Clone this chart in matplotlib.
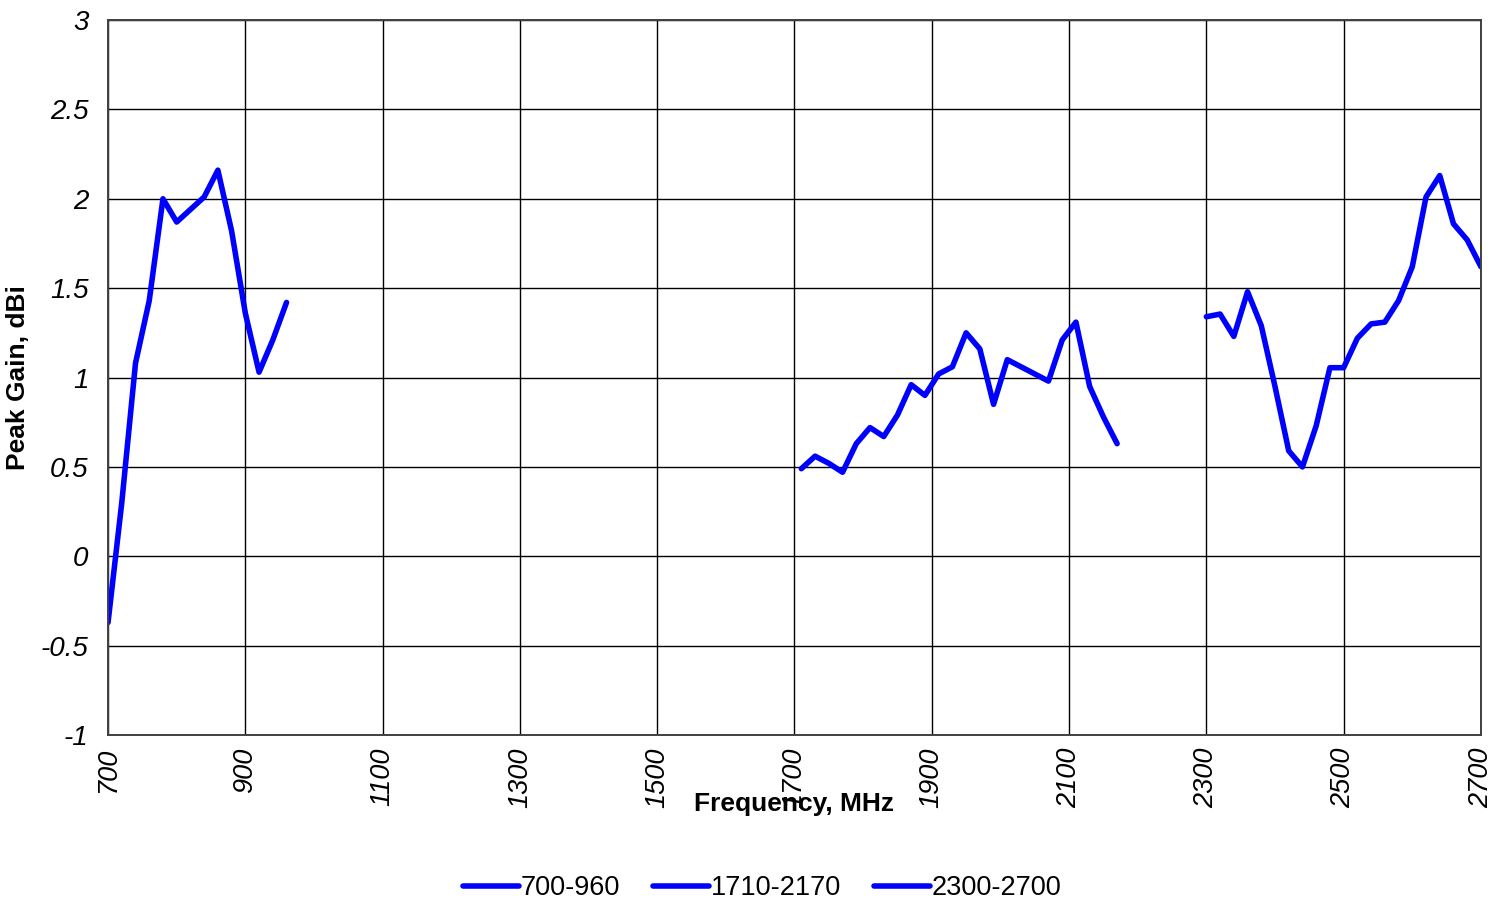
#!/usr/bin/env python3
import matplotlib

matplotlib.use("Agg")
import matplotlib.pyplot as plt

plt.rcParams["font.family"] = ["Liberation Sans", "DejaVu Sans"]

# 700-960 MHz band
FREQ_LOW = [700, 720, 740, 760, 780, 800, 820, 840, 860, 880, 900, 920, 940, 960]
GAIN_LOW = [-0.37, 0.30, 1.08, 1.43, 2.00, 1.87, 1.94, 2.01, 2.16, 1.82, 1.36,
            1.03, 1.21, 1.42]

# 1710-2170 MHz band
FREQ_MID = [1710, 1730, 1750, 1770, 1790, 1810, 1830, 1850, 1870, 1890, 1910, 1930,
            1950, 1970, 1990, 2010, 2030, 2050, 2070, 2090, 2110, 2130, 2150, 2170]
GAIN_MID = [0.49, 0.56, 0.52, 0.47, 0.63, 0.72, 0.67, 0.79, 0.96, 0.90, 1.02, 1.06,
            1.25, 1.16, 0.85, 1.10, 1.06, 1.02, 0.98, 1.21, 1.31, 0.95, 0.78, 0.63]

# 2300-2700 MHz band
FREQ_HIGH = [2300, 2320, 2340, 2360, 2380, 2400, 2420, 2440, 2460, 2480, 2500,
             2520, 2540, 2560, 2580, 2600, 2620, 2640, 2660, 2680, 2700]
GAIN_HIGH = [1.34, 1.355, 1.23, 1.48, 1.29, 0.95, 0.59, 0.50, 0.73, 1.055, 1.055,
             1.22, 1.30, 1.31, 1.43, 1.62, 2.01, 2.13, 1.86, 1.77, 1.62]

SERIES = [
    ("700-960", FREQ_LOW, GAIN_LOW),
    ("1710-2170", FREQ_MID, GAIN_MID),
    ("2300-2700", FREQ_HIGH, GAIN_HIGH),
]

X_TICKS = [700, 900, 1100, 1300, 1500, 1700, 1900, 2100, 2300, 2500, 2700]
Y_TICKS = [-1, -0.5, 0, 0.5, 1, 1.5, 2, 2.5, 3]
Y_TICK_LABELS = ["-1", "-0.5", "0", "0.5", "1", "1.5", "2", "2.5", "3"]


def main() -> None:
    fig = plt.figure(figsize=(15.09, 9.02), dpi=100)
    fig.patch.set_facecolor("white")
    ax = fig.add_axes([0.0716, 0.1851, 0.9098, 0.7927])

    for label, freq, gain in SERIES:
        ax.plot(freq, gain, color="#0000ff", linewidth=4.0, label=label,
                solid_joinstyle="round", solid_capstyle="round")

    ax.set_xlim(700, 2700)
    ax.set_ylim(-1, 3)
    ax.set_xticks(X_TICKS)
    ax.set_xticklabels([str(t) for t in X_TICKS], rotation=90, fontsize=19.5,
                       style="italic")
    ax.set_yticks(Y_TICKS)
    ax.set_yticklabels(Y_TICK_LABELS, fontsize=20, style="italic")
    ax.tick_params(axis="x", length=0, pad=9)
    ax.tick_params(axis="y", length=0, pad=14)

    ax.grid(True, color="black", linewidth=1.0)
    ax.set_axisbelow(True)
    for spine in ax.spines.values():
        spine.set_linewidth(1.4)
        spine.set_color("#404040")

    ax.set_xlabel("Frequency, MHz", fontsize=19, fontweight="bold")
    ax.xaxis.set_label_coords(0.5, -0.08)
    ax.set_ylabel("Peak Gain, dBi", fontsize=19, fontweight="bold")
    ax.yaxis.set_label_coords(-0.057, 0.5)

    fig.legend(
        loc="center",
        bbox_to_anchor=(0.505, 0.0155),
        ncol=3,
        frameon=False,
        fontsize=19.5,
        handlelength=2.1,
        handletextpad=0.05,
        columnspacing=1.2,
    )

    fig.savefig("out.png", dpi=100)
    plt.close(fig)


if __name__ == "__main__":
    main()
